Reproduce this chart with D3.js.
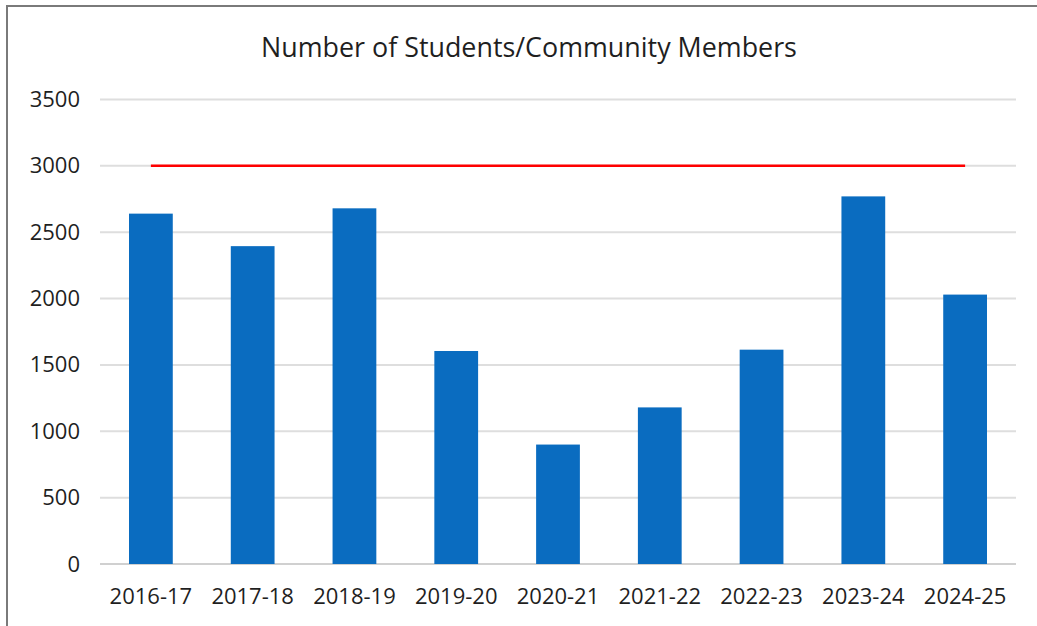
<!DOCTYPE html>
<html>
<head>
<meta charset="utf-8">
<script src="https://cdn.jsdelivr.net/npm/d3@7"></script>
<style>
  html, body { margin: 0; padding: 0; background: #ffffff; }
  svg { display: block; }
  text { font-family: "Open Sans", "Noto Sans", sans-serif; fill: #1f1f1f; }
</style>
</head>
<body>
<svg id="chart" width="1037" height="626"></svg>
<script>
// Academic years shown along the x axis
const years = ["2016-17", "2017-18", "2018-19", "2019-20", "2020-21", "2021-22", "2022-23", "2023-24", "2024-25"];
// Number of students / community members per year
const members = [2640, 2395, 2680, 1605, 900, 1180, 1615, 2770, 2030];
// Target level drawn as a horizontal line across the years
const target = [3000, 3000, 3000, 3000, 3000, 3000, 3000, 3000, 3000];
// Y axis tick values
const yTicks = [0, 500, 1000, 1500, 2000, 2500, 3000, 3500];
const chartTitle = "Number of Students/Community Members";

const svg = d3.select("#chart");
const W = 1037, H = 626;
const plot = { left: 100, right: 1016, top: 99.5, bottom: 564 };

// Outer frame of the chart area
svg.append("rect")
  .attr("x", 7).attr("y", 6)
  .attr("width", W + 20).attr("height", H + 20)
  .attr("fill", "#ffffff")
  .attr("stroke", "#7a7a7a")
  .attr("stroke-width", 2);

const x = d3.scaleBand()
  .domain(years)
  .range([plot.left, plot.right])
  .paddingInner(0.57)
  .paddingOuter(0.285);

const y = d3.scaleLinear()
  .domain([0, 3500])
  .range([plot.bottom, plot.top]);

// Horizontal gridlines
svg.append("g")
  .selectAll("line")
  .data(yTicks)
  .join("line")
  .attr("x1", plot.left).attr("x2", plot.right)
  .attr("y1", d => y(d)).attr("y2", d => y(d))
  .attr("stroke", d => d === 0 ? "#d0d0d0" : "#dedede")
  .attr("stroke-width", 2);

// Y axis labels
const yAxis = d3.axisLeft(y).tickValues(yTicks).tickFormat(d3.format("d")).tickSize(0).tickPadding(0);
const gy = svg.append("g").attr("transform", `translate(80,0)`).call(yAxis);
gy.select(".domain").remove();
gy.selectAll("text")
  .style("font-family", "'Open Sans', 'Noto Sans', sans-serif")
  .style("font-size", "22px")
  .attr("fill", "#1f1f1f");

// Bars
svg.append("g")
  .selectAll("rect")
  .data(years)
  .join("rect")
  .attr("x", d => x(d))
  .attr("width", x.bandwidth())
  .attr("y", (d, i) => y(members[i]))
  .attr("height", (d, i) => y(0) - y(members[i]))
  .attr("fill", "#0A6CC0");

// Target line from the first to the last year
const line = d3.line()
  .x((d, i) => x(years[i]) + x.bandwidth() / 2)
  .y(d => y(d));
svg.append("path")
  .datum(target)
  .attr("d", line)
  .attr("fill", "none")
  .attr("stroke", "#ff0000")
  .attr("stroke-width", 2.5);

// X axis labels
const xAxis = d3.axisBottom(x).tickSize(0).tickPadding(0);
const gx = svg.append("g").attr("transform", `translate(0,${plot.bottom + 24})`).call(xAxis);
gx.select(".domain").remove();
gx.selectAll("text")
  .style("font-family", "'Open Sans', 'Noto Sans', sans-serif")
  .style("font-size", "22px")
  .attr("fill", "#1f1f1f");

// Title
const title = svg.append("text")
  .attr("x", 529).attr("y", 57)
  .attr("text-anchor", "middle")
  .style("font-size", "24px")
  .text(chartTitle);
const tw = title.node().getComputedTextLength();
title.style("font-size", (24 * 536 / tw).toFixed(2) + "px");
</script>
</body>
</html>
